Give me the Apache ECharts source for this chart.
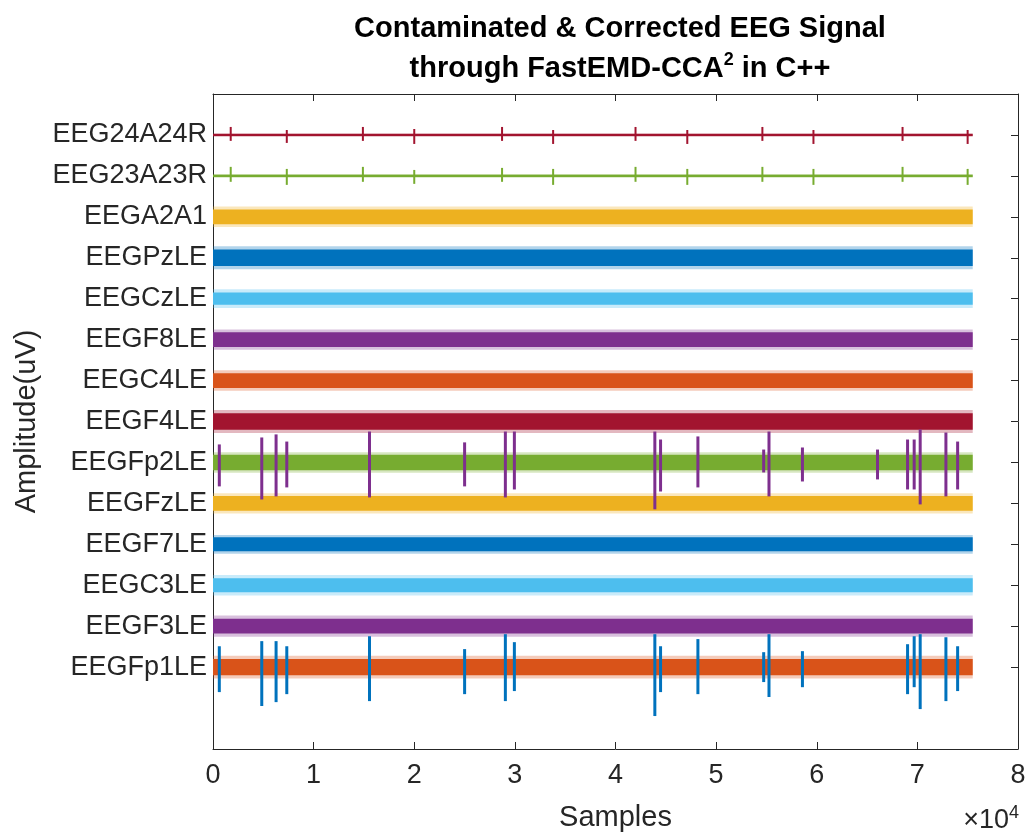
<!DOCTYPE html>
<html>
<head>
<meta charset="utf-8">
<title>Contaminated & Corrected EEG Signal</title>
<script src="https://cdn.jsdelivr.net/npm/echarts@6/dist/echarts.min.js"></script>
<style>
    html, body { margin: 0; padding: 0; background: #fff; }
    #chart { width: 1031px; height: 837px; }
</style>
</head>
<body>
<div id="chart"></div>
<script>
// channels listed bottom -> top, as they are stacked on the plot
const channels = ['EEGFp1LE', 'EEGF3LE', 'EEGC3LE', 'EEGF7LE', 'EEGFzLE', 'EEGFp2LE', 'EEGF4LE',
    'EEGC4LE', 'EEGF8LE', 'EEGCzLE', 'EEGPzLE', 'EEGA2A1', 'EEG23A23R', 'EEG24A24R'];
const channelColors = ['#D95319', '#7E2F8E', '#4DBEEE', '#0072BD', '#EDB120', '#77AC30', '#A2142F',
    '#D95319', '#7E2F8E', '#4DBEEE', '#0072BD', '#EDB120', '#77AC30', '#A2142F'];
const channelSpacing = 200;   // uV between two stacked traces
const firstOffset = 400;      // uV of the lowest trace
const lastSample = 75500;

// half width of the dense part of each trace, and of its outer peaks (uV)
const coreAmp = [40, 36, 34, 34, 36, 38, 40, 36, 36, 30, 40, 36, 5, 5];
const peakAmp = [56, 52, 50, 46, 50, 50, 56, 50, 50, 46, 56, 50, 9, 9];

// eye blink artifacts left in the contaminated Fp1 / Fp2 signals
const blinkSamples = [627, 4846, 6269, 7333, 15552, 25005, 29055, 29950, 43910, 44478, 48189,
    54726, 55254, 58577, 66040, 69025, 69682, 70279, 72836, 74000];
const fp1BlinkUp = [102, 127, 127, 102, 151, 88, 161, 122, 161, 102, 137, 73, 161, 78, 0, 112, 151, 161, 146, 102];
const fp1BlinkDown = [122, 190, 171, 132, 166, 132, 166, 117, 239, 122, 132, 73, 146, 98, 0, 132, 98, 205, 166, 117];
const fp2BlinkUp = [88, 122, 137, 102, 151, 98, 151, 151, 151, 112, 127, 63, 151, 73, 63, 112, 112, 161, 146, 102];
const fp2BlinkDown = [117, 181, 166, 122, 171, 117, 171, 132, 229, 142, 122, 49, 166, 93, 83, 132, 132, 205, 166, 132];

// cardiac beats on the reference channels
const beatSamples = [1761, 7333, 14896, 20000, 28726, 33801, 41990, 47134, 54597, 59672, 68527, 74995];
const ref23Up = [44, 34, 44, 29, 39, 34, 44, 34, 44, 34, 44, 34];
const ref23Down = [29, 44, 29, 39, 29, 44, 29, 44, 29, 44, 29, 44];
const ref24Up = [39, 24, 39, 29, 39, 24, 39, 24, 39, 24, 39, 24];
const ref24Down = [29, 39, 29, 44, 29, 44, 29, 44, 29, 44, 29, 44];

const yTickLabels = channels;
const xTickLabels = ['0', '1', '2', '3', '4', '5', '6', '7', '8'];

const offsets = channels.map((c, i) => firstOffset + i * channelSpacing);
const axisColor = '#262626';
const fontFamily = '"Liberation Sans", Arial, sans-serif';

const chart = echarts.init(document.getElementById('chart'));

function bandItem(params, api) {
    const off = api.value(0);
    const core = api.value(1);
    const peak = api.value(2);
    const color = channelColors[params.dataIndex];
    const a = api.coord([0, off + peak]);
    const b = api.coord([lastSample, off - peak]);
    const c = api.coord([0, off + core]);
    const d = api.coord([lastSample, off - core]);
    return {
        type: 'group',
        children: [
            {type: 'rect', shape: {x: a[0], y: a[1], width: b[0] - a[0], height: b[1] - a[1]},
                style: {fill: color, opacity: 0.3}},
            {type: 'rect', shape: {x: c[0], y: c[1], width: d[0] - c[0], height: d[1] - c[1]},
                style: {fill: color}}
        ]
    };
}

function spikeItem(color, width) {
    return (params, api) => {
        const top = api.coord([api.value(0), api.value(1)]);
        const bottom = api.coord([api.value(0), api.value(2)]);
        return {
            type: 'line',
            shape: {x1: top[0], y1: top[1], x2: bottom[0], y2: bottom[1]},
            style: {stroke: color, lineWidth: width}
        };
    };
}

function spikeData(samples, offset, up, down) {
    return samples.map((s, i) => [s, offset + up[i], offset - down[i]]).filter(d => d[1] !== d[2]);
}

const fp1 = offsets[0], fp2 = offsets[5];
const ref23 = offsets[12], ref24 = offsets[13];

const boxAxis = {
    axisLine: {show: true, onZero: false, lineStyle: {color: axisColor, width: 1}},
    axisTick: {show: true, inside: true, length: 7, lineStyle: {color: axisColor}},
    splitLine: {show: false}
};

chart.setOption({
    animation: false,
    textStyle: {fontFamily: fontFamily},
    title: {
        text: 'Contaminated & Corrected EEG Signal\nthrough FastEMD-CCA{sup|2} in C++',
        left: 615,
        textAlign: 'center',
        top: 4,
        textStyle: {
            fontSize: 29,
            fontWeight: 'bold',
            color: '#000',
            lineHeight: 40,
            rich: {
                sup: {fontSize: 18, fontWeight: 'bold', color: '#000', padding: [0, 0, 18, 0]}
            }
        }
    },
    grid: {left: 213, right: 13, top: 94, bottom: 87},
    xAxis: [
        Object.assign({}, boxAxis, {
            type: 'value', min: 0, max: 80000, interval: 10000, position: 'bottom',
            name: 'Samples', nameLocation: 'middle', nameGap: 54,
            nameTextStyle: {fontSize: 29, color: axisColor},
            axisLabel: {fontSize: 27, color: axisColor, margin: 13,
                formatter: v => xTickLabels[Math.round(v / 10000)]}
        }),
        Object.assign({}, boxAxis, {
            type: 'value', min: 0, max: 80000, interval: 10000, position: 'top',
            axisLabel: {show: false}
        })
    ],
    yAxis: [
        Object.assign({}, boxAxis, {
            type: 'value', min: 0, max: 3200, position: 'left',
            name: 'Amplitude(uV)', nameLocation: 'middle', nameGap: 170, nameRotate: 90,
            nameTextStyle: {fontSize: 29, color: axisColor},
            axisTick: {show: true, inside: true, length: 7, customValues: offsets,
                lineStyle: {color: axisColor}},
            axisLabel: {fontSize: 27, color: axisColor, margin: 6, customValues: offsets,
                formatter: v => yTickLabels[offsets.indexOf(v)] || ''}
        }),
        Object.assign({}, boxAxis, {
            type: 'value', min: 0, max: 3200, position: 'right',
            axisTick: {show: true, inside: true, length: 7, customValues: offsets,
                lineStyle: {color: axisColor}},
            axisLabel: {show: false}
        })
    ],
    graphic: [
        {
            type: 'text', right: 12, top: 804,
            style: {
                text: '×10{sup|4}',
                font: '27px ' + fontFamily,
                fill: axisColor,
                rich: {sup: {fontSize: 18, fill: axisColor, padding: [0, 0, 16, 0]}}
            }
        }
    ],
    series: [
        {
            type: 'custom', name: 'corrected', renderItem: bandItem, clip: true,
            data: channels.map((c, i) => [offsets[i], coreAmp[i], peakAmp[i]])
        },
        {
            type: 'custom', name: 'Fp1 contaminated', renderItem: spikeItem('#0072BD', 3), clip: true,
            data: spikeData(blinkSamples, fp1, fp1BlinkUp, fp1BlinkDown)
        },
        {
            type: 'custom', name: 'Fp2 contaminated', renderItem: spikeItem('#7E2F8E', 3), clip: true,
            data: spikeData(blinkSamples, fp2, fp2BlinkUp, fp2BlinkDown)
        },
        {
            type: 'custom', name: 'EEG23A23R beats', renderItem: spikeItem('#77AC30', 2), clip: true,
            data: spikeData(beatSamples, ref23, ref23Up, ref23Down)
        },
        {
            type: 'custom', name: 'EEG24A24R beats', renderItem: spikeItem('#A2142F', 2), clip: true,
            data: spikeData(beatSamples, ref24, ref24Up, ref24Down)
        }
    ]
});
</script>
</body>
</html>
